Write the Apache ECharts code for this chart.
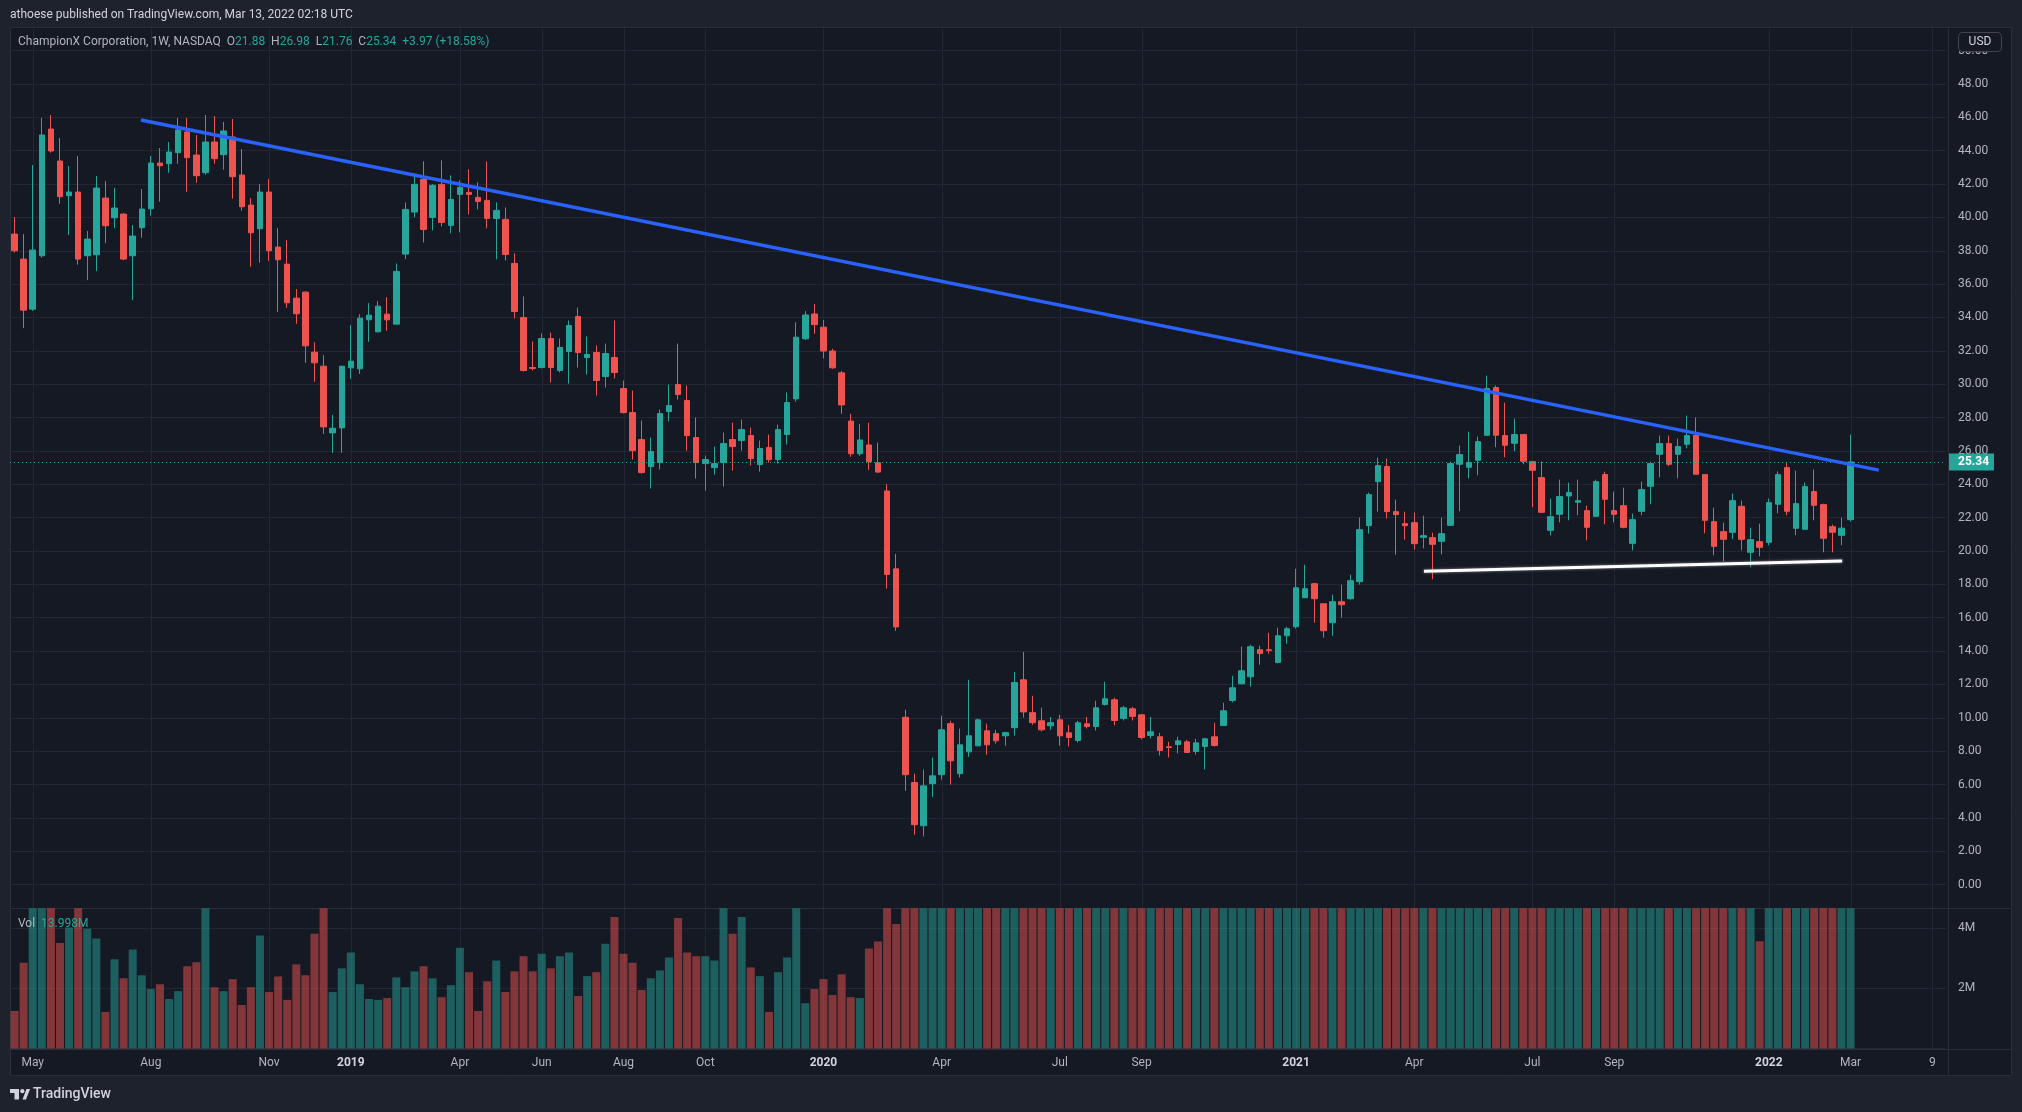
<!DOCTYPE html>
<html><head><meta charset="utf-8">
<script src="https://cdn.jsdelivr.net/npm/echarts@6/dist/echarts.min.js"></script>
<style>html,body{margin:0;padding:0;background:#1e222d;}#c{width:2022px;height:1112px;}</style>
</head><body><div id="c"></div>
<script>
// ---- data (weekly candles, week of 2018-04-23 .. 2022-03-07) ----
const startWeek = '2018-04-23';
const totalSlots = 213;
const opens = [
39.0,37.5,34.5,37.7,45.3,43.38,41.3,41.52,37.7,37.76,
41.16,39.98,40.2,37.7,39.38,40.52,43.26,43.22,43.88,45.12,
43.74,42.68,44.52,43.76,44.82,42.54,40.74,39.32,41.52,38.22,
37.2,35.16,35.52,31.92,31.08,27.08,27.38,30.98,30.92,33.86,
33.14,34.2,33.6,37.8,40.32,42.28,40.0,41.98,39.52,41.38,
41.5,41.2,41.02,39.94,39.88,37.24,34.0,31.0,31.0,32.74,
30.82,31.96,34.06,31.6,31.9,30.46,31.6,29.74,28.3,26.68,
25.06,25.3,28.36,29.98,29.02,26.8,25.24,25.0,25.3,26.68,
26.62,26.92,25.18,26.2,25.48,26.98,29.12,32.72,34.21,33.42,
31.99,30.68,27.79,25.83,26.36,25.29,23.6,18.93,10.03,6.12,
3.53,6.05,6.59,9.65,6.65,7.96,8.32,9.22,9.05,8.92,
9.41,12.28,10.31,9.82,9.52,9.88,9.1,8.64,9.64,9.48,
10.8,11.08,9.96,10.54,10.18,8.94,8.86,8.26,8.4,8.56,
7.98,8.28,8.86,9.54,11.04,12.04,12.46,14.08,14.08,13.32,
14.92,15.46,17.2,18.04,16.84,15.7,16.96,17.14,18.16,21.52,
24.16,25.06,22.36,21.64,21.7,20.82,20.8,20.58,21.54,25.2,
25.02,25.44,26.94,29.8,26.92,26.46,26.98,25.36,24.4,21.24,
22.2,23.3,22.92,22.42,22.08,24.58,22.42,22.72,20.46,22.38,
23.88,25.8,26.44,25.8,26.4,26.92,24.58,21.76,21.16,21.12,
22.68,19.92,20.56,20.52,22.8,25.0,21.36,21.3,23.56,22.78,
21.46,20.94,21.88];
const highs = [
40.02,39.0,43.14,45.96,46.14,44.76,43.08,43.68,39.18,42.48,
42.18,41.76,40.26,39.54,41.7,43.68,44.16,44.52,45.96,45.96,
44.94,46.14,46.08,45.72,45.9,44.1,41.16,42.0,42.3,39.36,
38.64,35.7,35.58,32.52,31.74,28.16,31.1,33.54,34.2,34.86,
34.98,35.22,37.24,40.9,42.64,43.36,42.0,43.42,42.52,42.22,
42.88,42.1,43.36,40.9,40.6,37.84,35.26,32.56,33.04,33.1,
32.74,33.82,34.6,32.86,32.32,32.44,33.82,30.22,29.62,27.82,
26.8,28.48,29.98,32.44,29.92,28.0,25.72,26.26,27.1,27.7,
27.88,27.4,26.62,26.98,27.58,29.5,33.72,34.39,34.81,33.85,
32.12,30.79,28.22,27.62,27.69,26.49,24.03,19.83,10.48,6.65,
6.89,7.61,10.12,9.82,9.35,12.28,9.95,9.65,9.28,9.16,
12.75,13.95,11.32,10.61,10.05,10.18,9.58,9.82,10.06,11.02,
12.16,11.2,10.72,10.66,10.2,10.06,9.1,8.56,8.86,8.68,
8.74,8.8,9.7,10.9,12.52,14.26,14.38,14.32,15.1,15.4,
15.46,18.94,19.18,18.1,16.85,17.38,17.98,18.58,22.0,23.5,
25.6,25.54,23.08,22.36,22.3,22.12,21.1,22.0,25.36,26.32,
27.16,26.86,30.52,29.92,28.9,27.94,27.0,25.36,25.36,23.14,
24.28,24.1,24.28,22.72,24.28,24.76,23.56,23.8,22.24,24.16,
25.36,26.92,26.92,26.74,28.12,28.0,24.6,22.6,21.7,23.44,
23.02,21.4,21.64,23.14,24.78,25.3,24.82,24.1,24.88,22.84,
21.58,22.0,26.98];
const lows = [
37.9,33.36,34.4,37.58,43.88,40.82,38.94,37.16,36.24,36.78,
38.46,39.36,37.44,35.04,38.78,40.1,40.94,42.68,43.22,41.54,
42.08,42.56,43.22,42.86,41.12,40.4,37.04,37.28,37.4,34.34,
34.58,33.62,31.28,30.14,27.02,25.88,25.88,30.32,30.62,32.54,
33.1,33.2,33.6,37.5,40.0,38.5,39.22,39.46,39.04,39.1,
40.18,40.48,39.34,37.48,37.42,33.94,30.76,30.82,30.94,30.1,
30.7,30.04,31.0,30.58,29.32,29.8,30.34,28.24,25.48,24.64,
23.74,24.88,27.76,29.08,26.02,24.34,23.62,24.58,23.86,24.82,
26.02,25.12,24.76,25.3,25.24,26.38,28.95,32.65,33.02,31.54,
30.92,28.22,25.65,25.7,24.86,24.69,17.74,15.21,5.62,2.99,
2.89,5.26,6.29,5.99,6.42,7.66,8.3,7.79,8.45,8.32,
8.92,10.01,9.58,9.18,9.28,8.32,8.28,8.52,9.36,9.24,
10.74,9.54,9.84,9.84,8.7,8.76,7.74,7.62,7.86,7.9,
7.8,6.9,8.28,9.52,10.92,12.0,11.86,13.18,13.84,13.26,
14.44,15.34,17.2,15.7,14.8,14.92,16.0,17.08,17.98,21.04,
22.36,21.94,19.78,20.68,20.08,20.16,18.3,19.8,21.5,22.38,
24.36,24.54,26.9,26.22,25.62,25.98,25.2,22.62,22.3,20.94,
21.72,21.84,22.14,20.64,22.08,21.6,21.72,21.36,20.04,22.14,
22.8,24.42,25.08,24.36,26.16,24.6,21.06,19.74,19.38,20.7,
20.04,19.02,19.68,20.34,22.26,22.14,20.94,21.3,21.84,19.92,
19.92,20.34,21.76];
const closes = [
38.0,34.44,38.04,44.94,43.98,41.24,41.52,37.5,38.7,41.76,
39.5,40.56,37.5,38.88,40.5,43.26,43.1,43.92,45.24,43.58,
42.5,44.52,43.52,45.18,42.44,40.64,39.08,41.52,38.0,37.46,
34.88,34.22,32.3,31.28,27.44,27.36,31.08,31.38,33.96,34.14,
34.68,33.86,36.76,40.48,41.98,39.28,41.92,39.7,41.08,41.8,
41.38,40.96,39.94,40.42,37.78,34.36,30.82,30.94,32.74,31.0,
32.2,33.52,31.9,31.78,30.22,31.84,30.7,28.3,26.02,24.7,
25.96,28.24,28.72,29.38,26.92,25.3,25.48,25.24,26.44,26.26,
27.28,25.54,26.14,25.48,27.28,28.9,32.82,34.15,33.57,31.99,
30.98,28.76,25.83,26.66,25.35,24.73,18.59,15.45,6.59,3.59,
5.92,6.52,9.28,7.42,8.38,8.92,9.88,8.38,8.62,9.11,
12.11,10.35,9.71,9.28,9.71,8.92,8.82,9.7,9.48,10.6,
11.14,9.84,10.6,10.08,8.82,9.16,8.04,8.22,8.62,7.92,
8.5,8.74,8.34,10.42,11.8,12.82,14.26,13.86,14.04,14.92,
15.34,17.8,17.74,17.14,15.22,16.96,16.78,18.22,21.28,23.38,
25.12,22.36,22.18,21.52,20.44,20.92,20.4,21.04,25.24,25.78,
25.3,26.56,29.74,26.94,26.34,26.98,25.38,24.84,22.32,22.06,
23.26,23.5,23.02,21.42,24.16,23.1,22.2,21.42,21.88,23.68,
25.24,26.44,25.2,26.26,26.92,24.6,21.84,20.28,20.7,23.02,
20.7,20.68,20.22,22.9,24.58,22.38,22.84,23.86,22.74,20.76,
21.12,21.37,25.34];
// volume in millions (bars above ~4.67M are clipped by the pane)
const volumes = [
1.25,2.86,6.8,6.1,5.3,3.51,4.03,5.0,3.99,3.66,
1.22,2.97,2.34,3.30,2.44,1.98,2.14,1.65,1.91,2.74,
2.87,5.1,2.04,1.91,2.31,1.45,2.04,3.76,1.88,2.40,
1.62,2.80,2.44,3.82,5.6,1.88,2.67,3.20,2.14,1.65,
1.62,1.68,2.37,2.04,2.57,2.74,2.34,1.71,2.11,3.36,
2.54,1.25,2.24,2.93,1.88,2.57,3.07,2.57,3.16,2.67,
3.07,3.20,1.75,2.41,2.54,3.49,4.38,3.16,2.86,1.95,
2.34,2.60,3.03,4.35,3.20,3.07,3.07,2.93,5.2,3.82,
4.38,2.70,2.41,1.22,2.54,3.03,5.0,1.51,1.98,2.31,
1.78,2.47,1.71,1.68,3.33,3.56,6.5,4.15,12.5,14.2,
10.8,9.6,11.3,8.9,7.8,9.2,7.1,6.4,5.9,6.2,
8.7,8.1,6.3,5.6,5.2,5.8,5.4,5.9,5.1,6.6,
6.9,5.7,5.3,5.0,6.1,5.5,5.8,5.2,5.4,5.6,
5.3,6.0,5.9,7.4,8.2,7.9,8.8,6.7,6.2,7.3,
6.8,9.4,8.6,7.7,8.1,6.9,6.4,7.2,10.1,9.3,
9.8,8.4,7.6,6.5,6.9,5.8,6.3,5.9,8.8,7.2,
6.4,6.9,11.6,9.1,7.3,6.2,6.6,6.8,7.4,6.1,
6.5,5.7,5.4,6.0,5.9,6.3,5.5,5.8,5.6,6.2,
7.1,6.8,5.9,5.7,6.4,7.0,8.3,7.5,6.6,6.9,
6.1,5.2,3.57,5.8,6.7,6.3,7.0,6.4,5.9,7.2,
6.0,5.6,13.998];
const tickIndex = [2,15,28,37,49,58,67,76,89,102,115,124,141,154,167,176,193,202,211];
const tickLabels = ['May','Aug','Nov','2019','Apr','Jun','Aug','Oct','2020','Apr','Jul','Sep','2021','Apr','Jul','Sep','2022','Mar','9'];
const trendLine = [[13.9,45.84],[205.1,24.85]];
const supportLine = [[155.06,18.78],[201.08,19.40]];
const lastPrice = 25.34;

// ---- build ----
const GREEN = '#26a69a', RED = '#ef5350';
const FONT = 'Roboto, "Noto Sans", sans-serif';
const categories = [];
{
  const d0 = new Date(startWeek + 'T00:00:00Z');
  for (let i = 0; i < totalSlots; i++) {
    const d = new Date(d0.getTime() + i * 7 * 86400000);
    categories.push(d.toISOString().slice(0, 10));
  }
}
const tickMap = {};
tickIndex.forEach((t, k) => tickMap[t] = tickLabels[k]);
const candleData = opens.map((o, i) => [o, closes[i], lows[i], highs[i]]);
const volData = volumes.map((v, i) => ({
  value: v,
  itemStyle: { color: closes[i] >= opens[i] ? 'rgba(38,166,154,0.5)' : 'rgba(239,83,80,0.5)' }
}));

const GL = 10, GW = 1936;
const chart = echarts.init(document.getElementById('c'), null, { renderer: 'canvas' });
chart.setOption({
  backgroundColor: '#1e222d',
  animation: false,
  textStyle: { fontFamily: FONT },
  grid: [
    { left: GL, width: GW, top: 50.6, height: 834, outerBoundsMode: 'none', containLabel: false },
    { left: GL, width: GW, top: 908.3, height: 140.2, outerBoundsMode: 'none', containLabel: false }
  ],
  xAxis: [
    { type: 'category', gridIndex: 0, data: categories, boundaryGap: true,
      axisLine: { show: false }, axisTick: { show: false }, axisLabel: { show: false }, splitLine: { show: false } },
    { type: 'category', gridIndex: 1, data: categories, boundaryGap: true,
      axisLine: { show: false }, axisTick: { show: false }, splitLine: { show: false },
      axisLabel: {
        show: true, margin: 8, fontSize: 12, fontFamily: FONT, color: '#b2b5be',
        interval: (idx) => tickMap[idx] !== undefined,
        hideOverlap: false,
        formatter: (val, idx) => {
          const t = tickMap[idx];
          if (t === undefined) return '';
          return /^\d{4}$/.test(t) ? '{y|' + t + '}' : t;
        },
        rich: { y: { fontSize: 12, fontFamily: FONT, fontWeight: 'bold', color: '#d1d4dc' } }
      } },
    { type: 'value', gridIndex: 0, min: -0.5, max: totalSlots - 0.5, show: false }
  ],
  yAxis: [
    { type: 'value', gridIndex: 0, position: 'right', min: 0, max: 50, interval: 2,
      axisLine: { show: false }, axisTick: { show: false },
      axisLabel: { margin: 12, fontSize: 12, fontFamily: FONT, color: '#b2b5be', formatter: v => v.toFixed(2) },
      splitLine: { show: true, lineStyle: { color: '#232733', width: 1 } } },
    { type: 'value', gridIndex: 1, position: 'right', min: 0, max: 4.67, interval: 2,
      axisLine: { show: false }, axisTick: { show: false },
      axisLabel: { margin: 12, fontSize: 12, fontFamily: FONT, color: '#b2b5be',
        formatter: v => (v === 2 || v === 4) ? v + 'M' : '' },
      splitLine: { show: true, lineStyle: { color: '#232733', width: 1 } } }
  ],
  series: [
    { type: 'bar', name: 'Vol', xAxisIndex: 1, yAxisIndex: 1, data: volData, barWidth: 8, clip: true, z: 2 },
    { type: 'candlestick', name: 'CHX', xAxisIndex: 0, yAxisIndex: 0, data: candleData, barWidth: 6, z: 3,
      itemStyle: { color: GREEN, color0: RED, borderColor: GREEN, borderColor0: RED, borderWidth: 1 },
      markLine: { silent: true, symbol: ['none', 'none'], animation: false,
        label: { show: false },
        lineStyle: { color: GREEN, type: [1, 3], width: 1 },
        data: [{ yAxis: lastPrice }] } },
    { type: 'line', name: 'trend', xAxisIndex: 2, yAxisIndex: 0, data: trendLine, symbol: 'none', z: 6,
      lineStyle: { color: '#2962ff', width: 3.5 } },
    { type: 'line', name: 'support', xAxisIndex: 2, yAxisIndex: 0, data: supportLine, symbol: 'none', z: 6,
      lineStyle: { color: '#ffffff', width: 3, shadowColor: 'rgba(140,140,140,0.9)', shadowBlur: 3 } }
  ]
});

// ---- decorations (frame, texts, gridlines) ----
const g = [];
g.push({ type: 'rect', z: -10, shape: { x: 10, y: 27, width: 2002, height: 1049 }, style: { fill: '#151924' }, silent: true });
tickIndex.forEach(t => {
  const x = Math.round(chart.convertToPixel({ xAxisIndex: 2 }, t)) + 0.5;
  g.push({ type: 'line', z: -5, silent: true, shape: { x1: x, y1: 27, x2: x, y2: 1049 }, style: { stroke: '#232733', lineWidth: 1 } });
});
g.push({ type: 'rect', z: 1, silent: true, shape: { x: 10.5, y: 27.5, width: 2001, height: 1048 }, style: { fill: null, stroke: '#2a2e39', lineWidth: 1 } });
g.push({ type: 'line', z: 1, silent: true, shape: { x1: 1948.5, y1: 27, x2: 1948.5, y2: 1076 }, style: { stroke: '#2a2e39', lineWidth: 1 } });
g.push({ type: 'line', z: 1, silent: true, shape: { x1: 10, y1: 908.5, x2: 2012, y2: 908.5 }, style: { stroke: '#2a2e39', lineWidth: 1 } });
g.push({ type: 'line', z: 1, silent: true, shape: { x1: 10, y1: 1049.5, x2: 2012, y2: 1049.5 }, style: { stroke: '#2a2e39', lineWidth: 1 } });
// header
g.push({ type: 'text', z: 10, silent: true, style: { x: 10, y: 15, text: 'athoese published on TradingView.com, Mar 13, 2022 02:18 UTC',
  fill: '#d1d4dc', font: '12px ' + FONT, verticalAlign: 'middle', align: 'left' } });
// legend
g.push({ type: 'text', z: 10, silent: true, style: { x: 18, y: 42, verticalAlign: 'middle', align: 'left',
  text: '{t|ChampionX Corporation, 1W, NASDAQ}  {k|O}{v|21.88}  {k|H}{v|26.98}  {k|L}{v|21.76}  {k|C}{v|25.34}  {v|+3.97 (+18.58%)}',
  font: '12px ' + FONT,
  rich: { t: { fill: '#b2b5be', fontSize: 12, fontFamily: FONT }, k: { fill: '#b2b5be', fontSize: 12, fontFamily: FONT }, v: { fill: GREEN, fontSize: 12, fontFamily: FONT } } } });
// vol legend
g.push({ type: 'text', z: 10, silent: true, style: { x: 18, y: 924, verticalAlign: 'middle', align: 'left',
  text: '{k|Vol}  {v|13.998M}', font: '12px ' + FONT,
  rich: { k: { fill: '#b2b5be', fontSize: 12, fontFamily: FONT }, v: { fill: GREEN, fontSize: 12, fontFamily: FONT } } } });
// USD box
g.push({ type: 'rect', z: 10, silent: true, shape: { x: 1958.5, y: 32.5, width: 43, height: 19, r: 4 }, style: { fill: '#151924', stroke: '#434651', lineWidth: 1 } });
g.push({ type: 'text', z: 11, silent: true, style: { x: 1980, y: 42, text: 'USD', fill: '#d1d4dc', font: '12px ' + FONT, align: 'center', verticalAlign: 'middle' } });
// last price label
const yLast = chart.convertToPixel({ yAxisIndex: 0 }, lastPrice);
g.push({ type: 'rect', z: 10, silent: true, shape: { x: 1949, y: yLast - 8.5, width: 45, height: 17 }, style: { fill: GREEN } });
g.push({ type: 'text', z: 11, silent: true, style: { x: 1958, y: yLast, text: lastPrice.toFixed(2), fill: '#ffffff', font: 'bold 12px ' + FONT, align: 'left', verticalAlign: 'middle' } });
// TradingView logo
g.push({ type: 'rect', z: 10, silent: true, shape: { x: 10, y: 1089, width: 9, height: 4 }, style: { fill: '#d1d4dc' } });
g.push({ type: 'rect', z: 10, silent: true, shape: { x: 14.5, y: 1089, width: 4.5, height: 10.5 }, style: { fill: '#d1d4dc' } });
g.push({ type: 'circle', z: 10, silent: true, shape: { cx: 22.3, cy: 1091.2, r: 2.1 }, style: { fill: '#d1d4dc' } });
g.push({ type: 'polygon', z: 10, silent: true, shape: { points: [[22.5, 1099.5], [26, 1099.5], [30, 1089], [26.5, 1089]] }, style: { fill: '#d1d4dc' } });
g.push({ type: 'text', z: 10, silent: true, style: { x: 33, y: 1094, text: 'TradingView', fill: '#d1d4dc', font: '500 14px ' + FONT, align: 'left', verticalAlign: 'middle' } });

chart.setOption({ graphic: g });
</script>
</body></html>
